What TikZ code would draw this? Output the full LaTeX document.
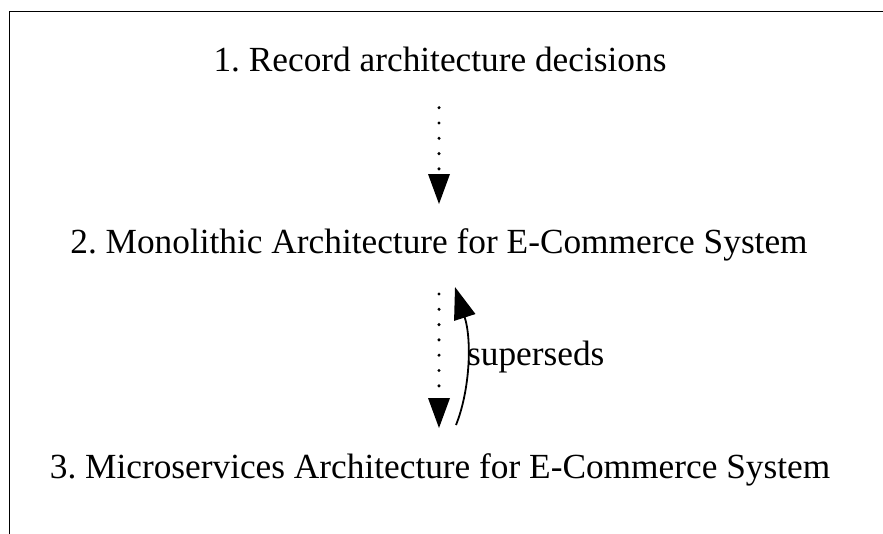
\documentclass[tikz,border=0pt]{standalone}
\usepackage{fontspec}
\setmainfont{Liberation Serif}
\usetikzlibrary{arrows.meta}
\frenchspacing
\begin{document}
\begin{tikzpicture}[x=1pt,y=-1pt,
  lbl/.style={inner sep=0pt, font=\fontsize{35.3}{40}\selectfont},
  dotline/.style={line width=3.4pt, dash pattern=on 0pt off 15.3pt, line cap=round,
    -{Triangle[length=30pt,width=22pt,line cap=butt,line width=0pt]}},
  solidline/.style={line width=1.8pt, -{Triangle[length=32pt,width=22pt]}}]
  \useasboundingbox (0,0) rectangle (883,533);
  \draw[line width=1.3pt] (9.5,540) -- (9.5,11.5) -- (890,11.5);
  \node[lbl] (n1) at (440,60) {1. Record architecture decisions};
  \node[lbl] (n2) at (439,245) {2. Monolithic Architecture for E-Commerce System};
  \node[lbl] (n3) at (440,470) {3. Microservices Architecture for E-Commerce System};
  \coordinate (a1s) at (439,107.7);
  \coordinate (a1e) at (439,204);
  \coordinate (a2s) at (439,294);
  \coordinate (a2e) at (439,428);
  \coordinate (c1s) at (456,425);
  \coordinate (c1e) at (455,287);
  \draw[dotline] (a1s) -- (a1e);
  \draw[dotline] (a2s) -- (a2e);
  \draw[solidline] (c1s) .. controls (470,390) and (472,340) .. (c1e);
  \node[lbl, anchor=west] (lab) at (467,357) {superseds};
\end{tikzpicture}
\end{document}
